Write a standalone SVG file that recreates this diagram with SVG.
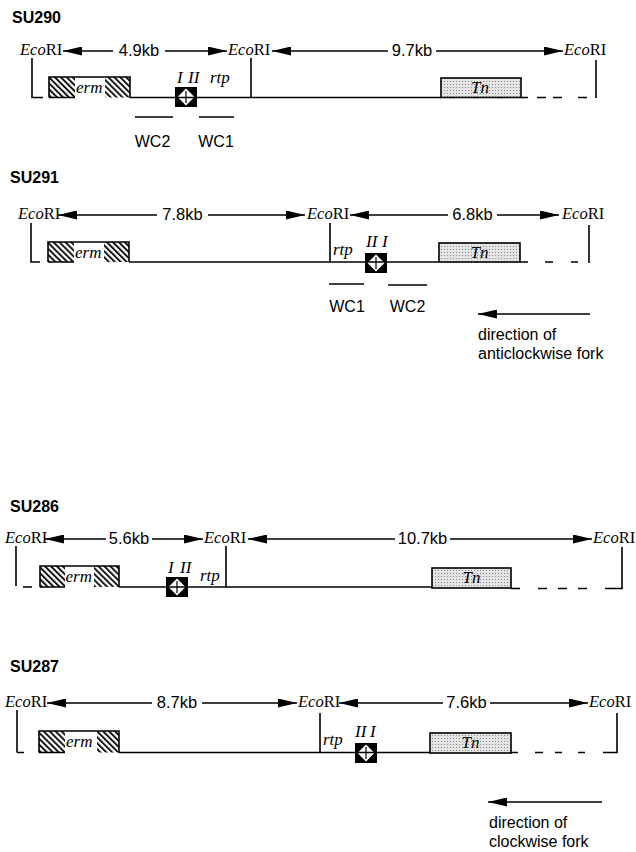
<svg xmlns="http://www.w3.org/2000/svg" width="636" height="852" viewBox="0 0 636 852">
<defs>
<style>
.ln{stroke:#000;stroke-width:1.6;fill:none}
.thin{stroke:#000;stroke-width:1.4;fill:none}
.arr{stroke:#000;stroke-width:1.4;fill:none;marker-end:url(#ah)}
.dbl{stroke:#000;stroke-width:1.4;fill:none;marker-start:url(#ahs)}
.eco{font-family:"Liberation Serif","Times New Roman",serif;font-size:16.5px;fill:#000}
.lab{font-family:"Liberation Sans",Arial,sans-serif;font-size:16px;fill:#000}
.kb{font-family:"Liberation Sans",Arial,sans-serif;font-size:16.5px;fill:#000;text-anchor:middle}
.ttl{font-family:"Liberation Sans",Arial,sans-serif;font-size:16px;font-weight:bold;fill:#000}
.it{font-family:"Liberation Serif","Times New Roman",serif;font-style:italic;font-size:17px;fill:#000}
.erm{fill:url(#hatch);stroke:none}
.tn{fill:url(#stip);stroke:#000;stroke-width:1.6}
</style>
<marker id="ah" viewBox="0 0 19 9" refX="19" refY="4.5" markerWidth="19" markerHeight="9" markerUnits="userSpaceOnUse" orient="auto">
<path d="M0,0 L19,4.5 L0,9 z" fill="#000"/>
</marker>
<marker id="ahs" viewBox="0 0 19 9" refX="0" refY="4.5" markerWidth="19" markerHeight="9" markerUnits="userSpaceOnUse" orient="auto">
<path d="M19,0 L0,4.5 L19,9 z" fill="#000"/>
</marker>
<pattern id="hatch" width="4.2" height="4.2" patternUnits="userSpaceOnUse" patternTransform="rotate(-45)">
<rect width="4.2" height="4.2" fill="#fff"/>
<line x1="1" y1="0" x2="1" y2="4.2" stroke="#000" stroke-width="1.8"/>
</pattern>
<pattern id="stip" width="3" height="3" patternUnits="userSpaceOnUse">
<rect width="3" height="3" fill="#e4e4e4"/>
<rect x="0" y="0" width="1" height="1" fill="#8a8a8a"/>
</pattern>
<g id="term">
<rect x="0" y="0" width="22" height="20" fill="#000"/>
<polygon points="2.5,10 11,1.5 19.5,10 11,18.5" fill="#fff"/>
<line x1="11" y1="4" x2="11" y2="16" stroke="#000" stroke-width="1.2"/>
</g>
</defs>

<!-- SU290 -->
<g id="su290">
<text class="ttl" x="12" y="23">SU290</text>
<g id="su290-labels">
<text class="eco" x="20" y="55"><tspan font-style="italic">Eco</tspan>RI</text>
<text class="kb" x="139" y="56">4.9kb</text>
<text class="eco" x="228" y="55"><tspan font-style="italic">Eco</tspan>RI</text>
<text class="kb" x="412" y="56">9.7kb</text>
<text class="eco" x="564" y="55"><tspan font-style="italic">Eco</tspan>RI</text>
</g>
<g id="su290-erm">
<rect class="erm" x="49" y="77" width="26" height="20.5"/>
<rect class="erm" x="105" y="77" width="25" height="20.5"/>
<path class="ln" d="M49,97.5 V77 H130 V97.5 M49,97.5 H75"/>
<text class="it" x="76" y="93">erm</text>
</g>
<g id="su290-term"><use href="#term" x="175" y="87"/>
<text class="it" x="177" y="83">I</text><text class="it" x="188" y="83">II</text>
<text class="it" x="210" y="83">rtp</text></g>
<g id="su290-tn">
<rect class="tn" x="441" y="78" width="80" height="19.5"/>
<text class="it" x="480" y="93" text-anchor="middle">Tn</text>
</g>
<g id="su290-wc">
<line class="thin" x1="135" y1="117" x2="173" y2="117"/>
<line class="thin" x1="199" y1="117" x2="234" y2="117"/>
<text class="lab" x="152.5" y="147" text-anchor="middle">WC2</text>
<text class="lab" x="216" y="147" text-anchor="middle">WC1</text>
</g>
</g>

<!-- SU291 -->
<g id="su291">
<text class="ttl" x="10" y="183">SU291</text>
<g id="su291-labels">
<text class="eco" x="18" y="219"><tspan font-style="italic">Eco</tspan>RI</text>
<text class="kb" x="182.5" y="220">7.8kb</text>
<text class="eco" x="307" y="219"><tspan font-style="italic">Eco</tspan>RI</text>
<text class="kb" x="472.5" y="220">6.8kb</text>
<text class="eco" x="562" y="219"><tspan font-style="italic">Eco</tspan>RI</text>
</g>
<g id="su291-erm">
<rect class="erm" x="48" y="242" width="26" height="20"/>
<rect class="erm" x="104" y="242" width="25" height="20"/>
<path class="ln" d="M48,262 V242 H129 V262 M48,262 H74"/>
<text class="it" x="75" y="258">erm</text>
</g>
<g id="su291-term"><use href="#term" x="365" y="253"/>
<text class="it" x="366" y="247">II</text><text class="it" x="382" y="247">I</text>
<text class="it" x="333" y="255">rtp</text></g>
<g id="su291-tn">
<rect class="tn" x="439" y="243" width="81" height="19"/>
<text class="it" x="479.5" y="258" text-anchor="middle">Tn</text>
</g>
<g id="su291-wc">
<line class="thin" x1="329" y1="284" x2="364" y2="284"/>
<line class="thin" x1="388" y1="285" x2="427" y2="285"/>
<text class="lab" x="347" y="312" text-anchor="middle">WC1</text>
<text class="lab" x="407.5" y="312" text-anchor="middle">WC2</text>
</g>
<g id="su291-dir">
<text class="lab" x="478" y="340">direction of</text>
<text class="lab" x="478" y="359">anticlockwise fork</text>
</g>
</g>

<!-- SU286 -->
<g id="su286">
<text class="ttl" x="10" y="512">SU286</text>
<g id="su286-labels">
<text class="eco" x="5" y="543"><tspan font-style="italic">Eco</tspan>RI</text>
<text class="kb" x="129" y="544">5.6kb</text>
<text class="eco" x="204" y="543"><tspan font-style="italic">Eco</tspan>RI</text>
<text class="kb" x="422.5" y="544">10.7kb</text>
<text class="eco" x="593" y="543"><tspan font-style="italic">Eco</tspan>RI</text>
</g>
<g id="su286-erm">
<rect class="erm" x="40" y="566" width="25" height="21"/>
<rect class="erm" x="94" y="566" width="25" height="21"/>
<path class="ln" d="M40,587 V566 H119 V587 M40,587 H65"/>
<text class="it" x="65.5" y="582">erm</text>
</g>
<g id="su286-term"><use href="#term" x="166" y="577"/>
<text class="it" x="168" y="573">I</text><text class="it" x="180" y="573">II</text>
<text class="it" x="200" y="581">rtp</text></g>
<g id="su286-tn">
<rect class="tn" x="432" y="568" width="79" height="20"/>
<text class="it" x="471.5" y="583" text-anchor="middle">Tn</text>
</g>
</g>

<!-- SU287 -->
<g id="su287">
<text class="ttl" x="10" y="672">SU287</text>
<g id="su287-labels">
<text class="eco" x="5" y="707"><tspan font-style="italic">Eco</tspan>RI</text>
<text class="kb" x="177" y="708">8.7kb</text>
<text class="eco" x="298" y="707"><tspan font-style="italic">Eco</tspan>RI</text>
<text class="kb" x="466.5" y="708">7.6kb</text>
<text class="eco" x="589" y="707"><tspan font-style="italic">Eco</tspan>RI</text>
</g>
<g id="su287-erm">
<rect class="erm" x="39" y="731" width="26" height="21.5"/>
<rect class="erm" x="97" y="731" width="22" height="21.5"/>
<path class="ln" d="M39,752.5 V731 H119 V752.5 M39,752.5 H65"/>
<text class="it" x="66" y="747">erm</text>
</g>
<g id="su287-term"><use href="#term" x="355" y="743"/>
<text class="it" x="355" y="737">II</text><text class="it" x="370" y="737">I</text>
<text class="it" x="323" y="745">rtp</text></g>
<g id="su287-tn">
<rect class="tn" x="430" y="733" width="81" height="20"/>
<text class="it" x="470.5" y="748" text-anchor="middle">Tn</text>
</g>
<g id="su287-dir">
<text class="lab" x="489" y="828">direction of</text>
<text class="lab" x="489" y="847">clockwise fork</text>
</g>
</g>

<!-- connectors -->
<g id="connectors">
<!-- SU290 -->
<line class="dbl" x1="63" y1="51" x2="113" y2="51"/>
<line class="arr" x1="165" y1="51" x2="227" y2="51"/>
<line class="dbl" x1="272" y1="51" x2="388" y2="51"/>
<line class="arr" x1="436" y1="51" x2="563" y2="51"/>
<path class="ln" d="M32,58 V97.5 H43"/>
<path class="ln" d="M130,97.5 H441 M521,97.5 H528"/>
<path class="ln" d="M537,97.5 H546 M553,97.5 H562 M578,97.5 H587"/>
<path class="ln" d="M251,58 V97.5 M596,60 V98"/>
<!-- SU291 -->
<line class="dbl" x1="58" y1="215" x2="157" y2="215"/>
<line class="arr" x1="208" y1="215" x2="305" y2="215"/>
<line class="dbl" x1="350" y1="215" x2="448" y2="215"/>
<line class="arr" x1="497" y1="215" x2="559" y2="215"/>
<path class="ln" d="M31,223 V262 H40"/>
<path class="ln" d="M129,262 H439 M520,262 H528"/>
<path class="ln" d="M545,262 H553 M571,262 H578"/>
<path class="ln" d="M330,223 V262 M589,225 V263"/>
<line class="arr" x1="590" y1="314" x2="478" y2="314"/>
<!-- SU286 -->
<line class="dbl" x1="45" y1="539" x2="106" y2="539"/>
<line class="arr" x1="152" y1="539" x2="203" y2="539"/>
<line class="dbl" x1="248" y1="539" x2="395" y2="539"/>
<line class="arr" x1="450" y1="539" x2="592" y2="539"/>
<path class="ln" d="M16,546 V586 M23,587 H32"/>
<path class="ln" d="M119,587 H432"/>
<path class="ln" d="M511,588.5 H520 M538,588.5 H547 M558,588.5 H567 M578,588.5 H587 M605,588.5 H622 V547"/>
<path class="ln" d="M226,546 V587"/>
<!-- SU287 -->
<line class="dbl" x1="47" y1="703" x2="152" y2="703"/>
<line class="arr" x1="202" y1="703" x2="297" y2="703"/>
<line class="dbl" x1="339" y1="703" x2="443" y2="703"/>
<line class="arr" x1="490" y1="703" x2="588" y2="703"/>
<path class="ln" d="M17,710 V752.5 M17,752.5 H24"/>
<path class="ln" d="M119,752.5 H430 M511,752.5 H518"/>
<path class="ln" d="M535,752.5 H543 M555,752.5 H562 M578,752.5 H585 M603,752.5 H617 V713"/>
<path class="ln" d="M320,713 V752.5"/>
<line class="arr" x1="602" y1="802" x2="488" y2="802"/>
</g>
</svg>
